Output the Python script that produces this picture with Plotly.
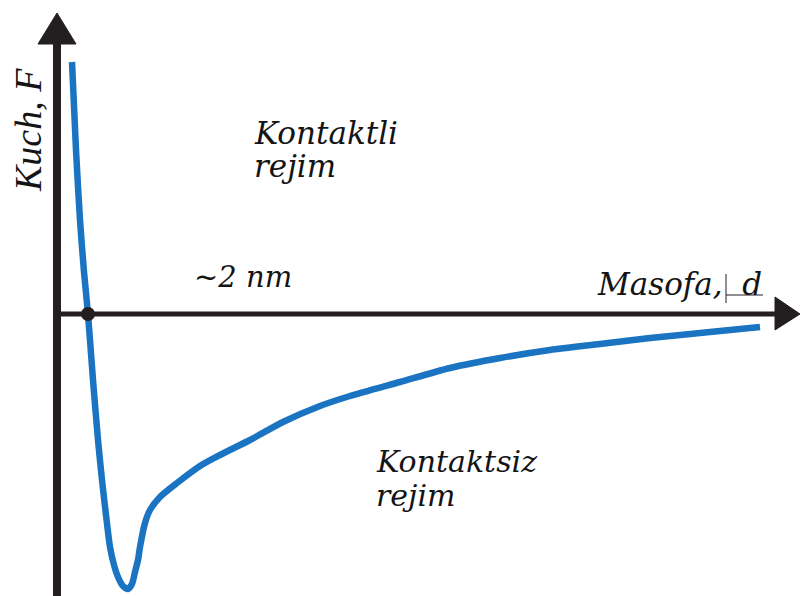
import plotly.graph_objects as go

# Force-distance curve (arbitrary units): distance d, force F
distance = [1.5, 1.9, 2.3, 2.7, 3.1, 3.6, 4.1, 4.5, 4.9, 5.3, 5.7, 6.1, 6.6, 7.1,
            7.5, 7.8, 8.1, 8.3, 8.8, 9.3, 10.3, 12.0, 14.3, 16.3, 19.3, 22.6, 26.3,
            29.3, 34.3, 39.3, 44.3, 49.3, 54.3, 59.3, 64.3, 70.3]
force = [25.2, 16.4, 9.4, 4.2, 0.0, -6.6, -12.6, -16.6, -20.1, -23.3, -25.1, -26.3,
         -27.2, -27.5, -27.0, -25.8, -24.6, -23.3, -20.9, -19.6, -18.3, -16.9, -15.2,
         -14.1, -12.6, -10.8, -9.2, -8.2, -6.8, -5.4, -4.4, -3.6, -3.0, -2.4, -1.9, -1.3]

# point where the curve crosses the distance axis
cross_d = [3.1]
cross_f = [0.0]

axis_color = "#231f20"
curve_color = "#1a74c2"
text_color = "#141414"

fig = go.Figure()

fig.add_trace(go.Scatter(x=distance, y=force, mode="lines",
                         line=dict(color=curve_color, width=6.5,
                                   shape="spline", smoothing=0.7),
                         hoverinfo="skip", showlegend=False))

# axes with arrowheads
shapes = [
    dict(type="line", x0=0, x1=0, y0=-30, y1=27.4, xref="x", yref="y",
         line=dict(color=axis_color, width=8)),
    dict(type="path", path="M 0 30.1 L -1.9 27.0 L 1.9 27.0 Z", xref="x", yref="y",
         fillcolor=axis_color, line=dict(color=axis_color, width=1)),
    dict(type="line", x0=0, x1=72.0, y0=0, y1=0, xref="x", yref="y",
         line=dict(color=axis_color, width=5)),
    dict(type="path", path="M 74.3 0 L 71.8 1.7 L 71.8 -1.6 Z", xref="x", yref="y",
         fillcolor=axis_color, line=dict(color=axis_color, width=1)),
    dict(type="line", x0=66.9, x1=66.9, y0=4.0, y1=1.1, xref="x", yref="y",
         line=dict(color=axis_color, width=1)),
    dict(type="line", x0=66.9, x1=70.6, y0=1.9, y1=1.9, xref="x", yref="y",
         line=dict(color=axis_color, width=1)),
]

fig.add_trace(go.Scatter(x=cross_d, y=cross_f, mode="markers",
                         marker=dict(color=axis_color, size=14),
                         hoverinfo="skip", showlegend=False))


def label(text, x, y, size=30, angle=0, anchor="left", family="DejaVu Serif"):
    fig.add_annotation(text=text, x=x, y=y, xref="x", yref="y",
                       xanchor=anchor, yanchor="middle", showarrow=False,
                       textangle=angle, borderpad=0,
                       font=dict(family=family, size=size, color=text_color,
                                 style="italic"))


label("Kontaktli", 19.6, 18.1, size=31)
label("rejim", 19.6, 14.8, size=31)
label("~2 nm", 13.6, 3.7, size=29)
label("Masofa,\u00a0\u00a0d", 53.9, 3.0, size=31)
label("Kontaktsiz", 31.8, -14.7, size=30)
label("rejim", 31.8, -18.1, size=30)
label("Kuch, F", -2.9, 18.4, size=38, angle=-90, anchor="center",
      family="Liberation Serif")

fig.update_layout(
    width=800, height=596,
    margin=dict(l=0, r=0, t=0, b=0),
    paper_bgcolor="white", plot_bgcolor="white",
    shapes=shapes,
    xaxis=dict(range=[-5.7, 74.3], visible=False, fixedrange=True),
    yaxis=dict(range=[-28.2, 31.4], visible=False, fixedrange=True),
)

fig.write_html("out.html")
